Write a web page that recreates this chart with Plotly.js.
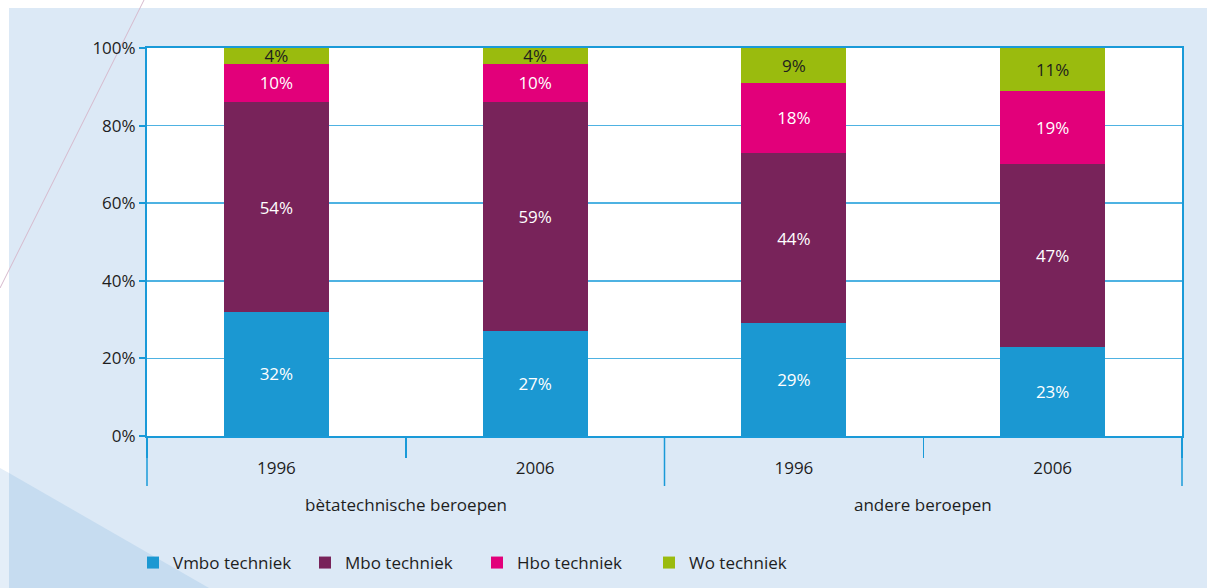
<!DOCTYPE html>
<html>
<head>
<meta charset="utf-8">
<script src="https://cdn.plot.ly/plotly-3.0.1.min.js"></script>
<style>
html,body{margin:0;padding:0;background:#ffffff;}
#chart{width:1207px;height:588px;}
</style>
</head>
<body>
<div id="chart"></div>
<script>
// ---- data ----
var groups = ['bètatechnische beroepen', 'bètatechnische beroepen', 'andere beroepen', 'andere beroepen'];
var years = ['1996', '2006', '1996', '2006'];
var seriesNames = ['Vmbo techniek', 'Mbo techniek', 'Hbo techniek', 'Wo techniek'];
var vmbo = [32, 27, 29, 23];
var mbo = [54, 59, 44, 47];
var hbo = [10, 10, 18, 19];
var wo = [4, 4, 9, 11];
var yTicks = [0, 20, 40, 60, 80, 100];
var yTickLabels = ['0%', '20%', '40%', '60%', '80%', '100%'];

// ---- style ----
var colors = ['#1b98d2', '#78235a', '#e2007a', '#9abb0e'];
var textColors = ['#ffffff', '#ffffff', '#ffffff', '#1e1e1e'];
var axisBlue = '#1a9ad8';
var gridBlue = '#4eb2e2';
var FONT = 'Open Sans, Noto Sans, DejaVu Sans, sans-serif';

var W = 1207, H = 588;
var L = 147, R = 25, T = 48, B = 152;
var pw = W - L - R, ph = H - T - B;
function px(x) { return (x - L) / pw; }
function py(y) { return (H - B - y) / ph; }
function poly(pts) {
  return pts.map(function (p, i) { return (i ? 'L' : 'M') + px(p[0]) + ',' + py(p[1]); }).join('') + 'Z';
}

// unique category keys (group + year) for the category axis
var catKeys = groups.map(function (g, i) { return g + ' | ' + years[i]; });
var n = catKeys.length;

var values = [vmbo, mbo, hbo, wo];
var traces = values.map(function (v, i) {
  return {
    type: 'bar',
    name: seriesNames[i],
    x: catKeys,
    y: v,
    text: v.map(function (k) { return k + '%'; }),
    texttemplate: '%{text}',
    marker: { color: colors[i], line: { width: 0 } },
    textposition: 'inside',
    insidetextanchor: 'middle',
    textangle: 0,
    constraintext: 'none',
    cliponaxis: false,
    insidetextfont: { family: FONT, size: 17, color: textColors[i] },
    hoverinfo: 'skip'
  };
});

// group spans (from the data arrays)
var groupSpans = [];
groups.forEach(function (g, i) {
  var last = groupSpans[groupSpans.length - 1];
  if (last && last.name === g) { last.end = i; }
  else { groupSpans.push({ name: g, start: i, end: i }); }
});

var shapes = [
  { type: 'path', xref: 'paper', yref: 'paper', layer: 'below', line: { width: 0 }, fillcolor: '#dce9f6',
    path: poly([[9, 8], [W, 8], [W, H], [9, H]]) },
  { type: 'path', xref: 'paper', yref: 'paper', layer: 'below', line: { width: 0 }, fillcolor: '#e4eef8',
    path: poly([[0, 468], [9, 473], [9, H], [0, H]]) },
  { type: 'path', xref: 'paper', yref: 'paper', layer: 'below', line: { width: 0 }, fillcolor: '#c6dcf0',
    path: poly([[9, 473], [209, H], [9, H]]) },
  { type: 'line', xref: 'paper', yref: 'paper', layer: 'below', line: { width: 1, color: '#d6b9cc' },
    x0: px(144), y0: py(0), x1: px(0), y1: py(288) },
  { type: 'rect', xref: 'paper', yref: 'paper', layer: 'below', line: { width: 0 }, fillcolor: '#ffffff',
    x0: 0, x1: 1, y0: 0, y1: 1 }
];

// group dividers at group boundaries
var boundaries = [0];
groupSpans.forEach(function (s) { boundaries.push((s.end + 1) / n); });
boundaries.forEach(function (b) {
  shapes.push({ type: 'line', xref: 'paper', yref: 'paper', layer: 'above',
    line: { width: 1.5, color: axisBlue }, x0: b, x1: b, y0: 0, y1: py(486) });
});

var annotations = groupSpans.map(function (s) {
  return {
    xref: 'paper', yref: 'paper',
    x: (s.start + s.end + 1) / 2 / n, y: py(504),
    xanchor: 'center', yanchor: 'middle',
    text: s.name, showarrow: false,
    font: { family: FONT, size: 17, color: '#1e1e1e' }
  };
});

var layout = {
  width: W, height: H,
  margin: { l: L, r: R, t: T, b: B, pad: 0, autoexpand: false },
  paper_bgcolor: '#ffffff',
  plot_bgcolor: '#ffffff',
  font: { family: FONT, size: 17, color: '#1e1e1e' },
  barmode: 'stack',
  bargap: 0.594,
  showlegend: true,
  legend: {
    orientation: 'h',
    x: px(133), xanchor: 'left',
    y: py(563), yanchor: 'middle',
    font: { family: FONT, size: 17, color: '#1e1e1e' },
    bgcolor: 'rgba(0,0,0,0)',
    entrywidth: 127, entrywidthmode: 'pixels',
    traceorder: 'normal',
    itemclick: false, itemdoubleclick: false
  },
  xaxis: {
    type: 'category',
    categoryorder: 'array', categoryarray: catKeys,
    tickmode: 'array', tickvals: catKeys, ticktext: years,
    showline: true, linecolor: axisBlue, linewidth: 2,
    mirror: true,
    ticks: 'outside', ticklen: 20, tickwidth: 1.5, tickcolor: axisBlue,
    tickson: 'boundaries',
    ticklabelstandoff: 16,
    showgrid: false, zeroline: false,
    tickfont: { family: FONT, size: 17, color: '#1e1e1e' },
    fixedrange: true
  },
  yaxis: {
    range: [0, 100],
    tickmode: 'array',
    tickvals: yTicks,
    ticktext: yTickLabels,
    showline: true, linecolor: axisBlue, linewidth: 2,
    mirror: true,
    ticks: 'outside', ticklen: 6, tickwidth: 2, tickcolor: axisBlue,
    showgrid: true, gridcolor: gridBlue, gridwidth: 1.5,
    zeroline: false,
    tickfont: { family: FONT, size: 17, color: '#1e1e1e' },
    fixedrange: true
  },
  shapes: shapes,
  annotations: annotations
};

Plotly.newPlot('chart', traces, layout, { displayModeBar: false, staticPlot: true });
</script>
</body>
</html>
